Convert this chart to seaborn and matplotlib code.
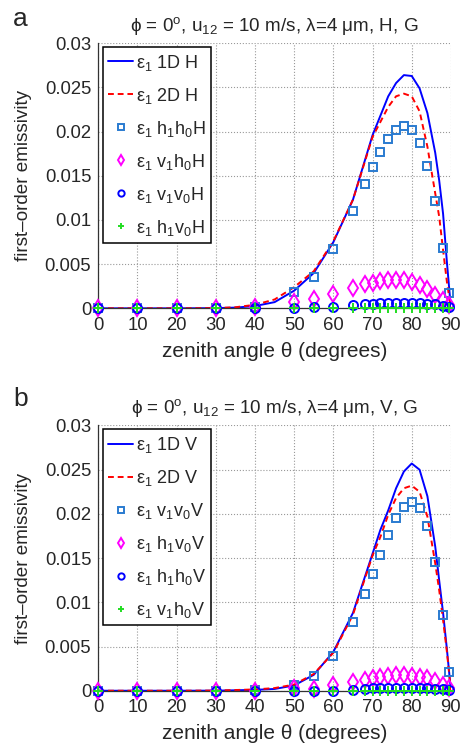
import matplotlib
matplotlib.use("Agg")
import matplotlib.pyplot as plt
import seaborn as sns

# sample angles of the first-order terms (markers) and of the full curves (lines)
theta_pts = [0, 10, 20, 30, 40, 50, 55, 60, 65, 68, 70, 72, 74, 76, 78, 80, 82, 84, 86, 88, 89.5]
theta_line = [0, 10, 20, 30, 35, 40, 45, 50, 55, 60, 65, 70, 72, 74, 76, 78, 80, 82, 84, 86, 87, 88, 89, 90]

# panel a (H polarisation)
e1_1D_H = [0, 0, 0, 0.00002, 0.00008, 0.00026, 0.0007, 0.0020, 0.0040, 0.0075, 0.0123, 0.0196,
           0.0218, 0.0240, 0.0255, 0.0264, 0.0263, 0.0249, 0.0221, 0.0176, 0.0145, 0.0107, 0.0051, 0]
e1_2D_H = [0, 0, 0, 0.00003, 0.00012, 0.0004, 0.0010, 0.0024, 0.0042, 0.0076, 0.0123, 0.0194,
           0.0211, 0.0228, 0.0240, 0.0243, 0.0240, 0.0223, 0.0183, 0.0130, 0.0104, 0.0066, 0.0029, 0]
h1h0H = [0, 0, 0, 0, 0.0002, 0.0018, 0.0036, 0.0067, 0.0110, 0.0141, 0.0160, 0.0177, 0.0192,
         0.0202, 0.0206, 0.0202, 0.0187, 0.0161, 0.0122, 0.0068, 0.0017]
v1h0H = [0, 0, 0, 0, 0.0001, 0.0007, 0.0010, 0.0016, 0.0023, 0.0027, 0.0029, 0.0031, 0.0032,
         0.0032, 0.0032, 0.0030, 0.0026, 0.0022, 0.0015, 0.0009, 0.0004]
v1v0H = [0, 0, 0, 0, 0, 0.00005, 0.0001, 0.0001, 0.0004, 0.0005, 0.0005, 0.0006, 0.0006,
         0.0006, 0.0006, 0.0006, 0.0006, 0.0005, 0.0005, 0.0003, 0.0001]
h1v0H = [0, 0, 0, 0, 0, 0, 0, 0, 0, 0, 0, 0, 0, 0, 0, 0, 0, 0, 0, 0, 0]

# panel b (V polarisation)
e1_1D_V = [0, 0, 0, 0.00001, 0.00005, 0.0001, 0.0002, 0.0006, 0.0018, 0.0044, 0.0088, 0.0155,
           0.0182, 0.0204, 0.0229, 0.0248, 0.0257, 0.0250, 0.0220, 0.0163, 0.0125, 0.0088, 0.0046, 0]
e1_2D_V = [0, 0, 0, 0.00002, 0.00008, 0.00015, 0.0003, 0.0007, 0.0019, 0.0043, 0.0086, 0.0153,
           0.0174, 0.0199, 0.0218, 0.0229, 0.0232, 0.0225, 0.0197, 0.0144, 0.0114, 0.0080, 0.0043, 0]
v1v0V = [0, 0, 0, 0, 0.0001, 0.0006, 0.0017, 0.0039, 0.0078, 0.0109, 0.0132, 0.0154, 0.0176,
         0.0195, 0.0208, 0.0213, 0.0207, 0.0186, 0.0146, 0.0086, 0.0021]
h1v0V = [0, 0, 0, 0, 0, 0.0003, 0.0002, 0.0006, 0.0010, 0.0012, 0.0014, 0.0015, 0.0017,
         0.0018, 0.0018, 0.0017, 0.0016, 0.0014, 0.0011, 0.0007, 0.0003]
h1h0V = [0, 0, 0, 0, 0, 0, 0, 0, 0.0001, 0.0002, 0.0003, 0.0003, 0.0003, 0.0003, 0.0003,
         0.0003, 0.0003, 0.0003, 0.0002, 0.0002, 0.0001]
v1h0V = [0, 0, 0, 0, 0, 0, 0, 0, 0, 0, 0, 0, 0, 0, 0, 0, 0, 0, 0, 0, 0]

yticks = [0, 0.005, 0.01, 0.015, 0.02, 0.025, 0.03]
ytick_labels = ["0", "0.005", "0.01", "0.015", "0.02", "0.025", "0.03"]
xticks = [0, 10, 20, 30, 40, 50, 60, 70, 80, 90]

sns.set_style("white")
plt.rcParams["font.family"] = ["Liberation Sans", "DejaVu Sans"]
plt.rcParams["mathtext.fontset"] = "custom"
plt.rcParams["mathtext.rm"] = "Liberation Sans"
plt.rcParams["mathtext.it"] = "Liberation Sans:italic"

C_SQ = "#2a7bd0"
C_DI = "#ff00ff"
C_CI = "#0000ff"
C_PL = "#22dd22"


def panel(ax, d1, d2, m_sq, m_di, m_ci, m_pl, pol, names, title, letter, ybase):
    sns.lineplot(x=theta_line, y=d1, ax=ax, color="#0000ff", lw=1.4,
                 label=r"ε$_1$ 1D " + pol)
    sns.lineplot(x=theta_line, y=d2, ax=ax, color="#ff0000", lw=1.4,
                 linestyle=(0, (3, 2)), label=r"ε$_1$ 2D " + pol)
    specs = [(m_sq, "s", C_SQ, 5.5), (m_di, "d", C_DI, 8.0),
             (m_ci, "o", C_CI, 6.5), (m_pl, "+", C_PL, 7.0)]
    for (vals, mk, c, ms), nm in zip(specs, names):
        sns.lineplot(x=theta_pts, y=vals, ax=ax, marker=mk, linestyle="",
                     markersize=ms, markerfacecolor="none", markeredgecolor=c,
                     markeredgewidth=1.4, color=c, label=nm, clip_on=False, zorder=3)

    ax.set_xlim(0, 90)
    ax.set_ylim(0, 0.03)
    ax.set_xticks(xticks)
    ax.set_yticks(yticks)
    ax.set_yticklabels(ytick_labels)
    ax.tick_params(direction="in", length=3, labelsize=13.3, width=0.8)
    ax.tick_params(axis="y", pad=5)
    ax.tick_params(axis="x", pad=6)
    ax.grid(True, linestyle=":", color="#999999", linewidth=0.8)
    for s in ["top", "right"]:
        ax.spines[s].set_visible(False)
    for s in ["left", "bottom"]:
        ax.spines[s].set_color("#333333")
        ax.spines[s].set_linewidth(0.9)
    ax.set_xlabel("zenith angle θ (degrees)", fontsize=15, labelpad=6)
    ax.set_ylabel("first\u2013order emissivity", fontsize=13.6, labelpad=9)
    ax.set_title(title, fontsize=13.6, pad=9)

    leg = ax.legend(loc="upper left", bbox_to_anchor=(0.012, 0.985), borderaxespad=0,
                    fontsize=13, frameon=True, fancybox=False, framealpha=1,
                    edgecolor="black", handlelength=1.4, handletextpad=0.15,
                    labelspacing=0.72, borderpad=0.3, markerscale=0.7)
    leg.get_frame().set_linewidth(1.1)
    fig.text(0.028, ybase, letter, fontsize=19, va="baseline")


fig = plt.figure(figsize=(4.63, 7.44), dpi=100)
ax_a = fig.add_axes([0.2123, 0.5856, 0.7616, 0.3562])
ax_b = fig.add_axes([0.2123, 0.0716, 0.7616, 0.3565])

panel(ax_a, e1_1D_H, e1_2D_H, h1h0H, v1h0H, v1v0H, h1v0H, "H",
      [r"ε$_1$ h$_1$h$_0$H", r"ε$_1$ v$_1$h$_0$H", r"ε$_1$ v$_1$v$_0$H", r"ε$_1$ h$_1$v$_0$H"],
      r"ϕ = 0$^\mathrm{o}$, u$_{12}$ = 10 m/s, λ=4 μm, H, G", "a", 0.965)
panel(ax_b, e1_1D_V, e1_2D_V, v1v0V, h1v0V, h1h0V, v1h0V, "V",
      [r"ε$_1$ v$_1$v$_0$V", r"ε$_1$ h$_1$v$_0$V", r"ε$_1$ h$_1$h$_0$V", r"ε$_1$ v$_1$h$_0$V"],
      r"ϕ = 0$^\mathrm{o}$, u$_{12}$ = 10 m/s, λ=4 μm, V, G", "b", 0.454)

fig.savefig("out.png", dpi=100)
